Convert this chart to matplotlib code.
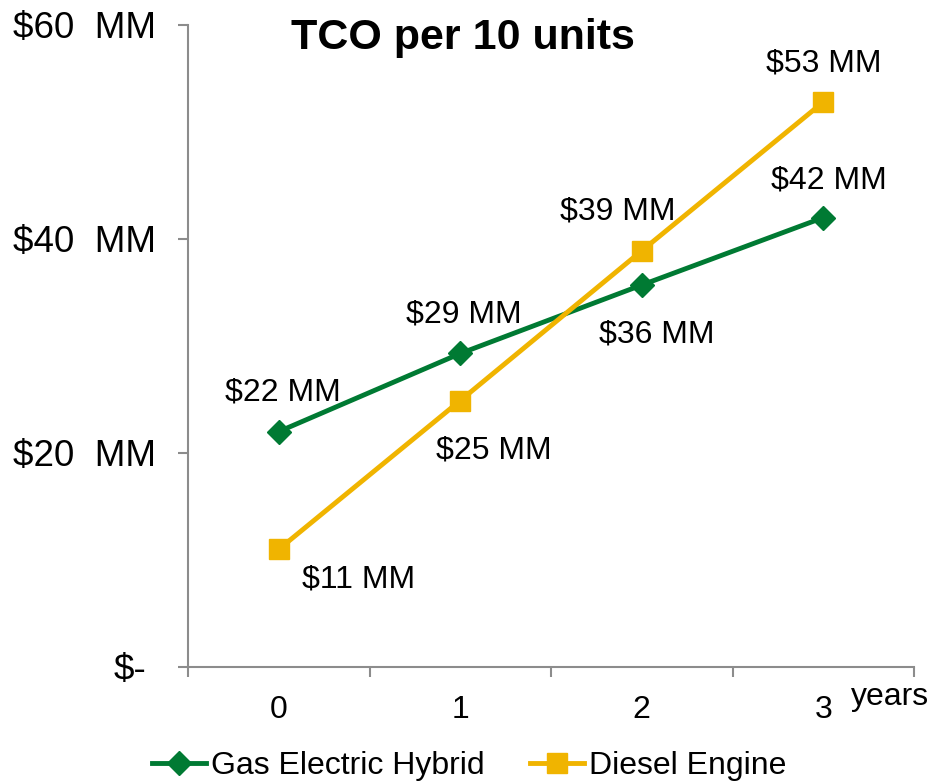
"""TCO per 10 units: gas electric hybrid vs diesel engine, years 0-3."""

import matplotlib
matplotlib.use("Agg")
import matplotlib.pyplot as plt
import matplotlib.transforms as mtransforms
from matplotlib.lines import Line2D

plt.rcParams["font.family"] = ["Liberation Sans", "DejaVu Sans"]

years = [0, 1, 2, 3]
hybrid_tco = [22.0, 29.3, 35.7, 42.0]
diesel_tco = [11.0, 24.9, 38.9, 52.8]
hybrid_labels = ["$22 MM", "$29 MM", "$36 MM", "$42 MM"]
diesel_labels = ["$11 MM", "$25 MM", "$39 MM", "$53 MM"]
y_ticks = [0, 20, 40, 60]
y_tick_labels = ["$-", "$20  MM", "$40  MM", "$60  MM"]

GREEN = "#007A33"
GOLD = "#F0B400"
AXIS = "#8C8C8C"

# label offsets in pixels (x right, y up) relative to each point
hybrid_offsets = [(4, 39), (4, 39), (15, -49), (6, 37)]
diesel_offsets = [(80, -30), (34, -50), (-24, 39), (1, 39)]

W, H = 931, 783
fig = plt.figure(figsize=(W / 100, H / 100), dpi=100)
ax = fig.add_axes([188 / W, 1 - 667 / H, (914 - 188) / W, (667 - 25) / H])

ax.plot(years, hybrid_tco, color=GREEN, lw=3.5, marker="D", ms=12,
        mec=GREEN, mfc=GREEN, zorder=3)
ax.plot(years, diesel_tco, color=GOLD, lw=3.5, marker="s", ms=15,
        mec=GOLD, mfc=GOLD, zorder=3)

for x, y, lab, off in zip(years, hybrid_tco, hybrid_labels, hybrid_offsets):
    ax.annotate(lab, (x, y), xytext=off, textcoords="offset pixels",
                ha="center", va="center", fontsize=23, color="black")
for x, y, lab, off in zip(years, diesel_tco, diesel_labels, diesel_offsets):
    ax.annotate(lab, (x, y), xytext=off, textcoords="offset pixels",
                ha="center", va="center", fontsize=23, color="black")

ax.set_xlim(-0.5, 3.5)
ax.set_ylim(0, 60)

ax.set_xticks(years)
ax.set_xticklabels([str(y) for y in years])
ax.set_xticks([-0.5, 0.5, 1.5, 2.5, 3.5], minor=True)
ax.tick_params(axis="x", which="major", length=0, pad=20, labelsize=23)
ax.tick_params(axis="x", which="minor", length=7, width=1.5, color=AXIS,
               direction="out")

ax.set_yticks(y_ticks)
ax.set_yticklabels(y_tick_labels)
ax.tick_params(axis="y", length=7, width=1.5, color=AXIS, pad=16,
               labelsize=26.5, direction="out")
# accounting-style: the "$-" label sits a bit further left
for lbl in ax.get_yticklabels():
    if lbl.get_text() == "$-":
        lbl.set_transform(lbl.get_transform()
                          + mtransforms.ScaledTranslation(-10 / 100, 0, fig.dpi_scale_trans))

for side in ("top", "right"):
    ax.spines[side].set_visible(False)
for side in ("left", "bottom"):
    ax.spines[side].set_color(AXIS)
    ax.spines[side].set_linewidth(1.5)

fig.text(463 / W, 1 - 38 / H, "TCO per 10 units", ha="center", va="center",
         fontsize=31, fontweight="bold")
fig.text(890 / W, 1 - 697 / H, "years", ha="center", va="center", fontsize=23)

handles = [
    Line2D([], [], color=GREEN, lw=3.5, marker="D", ms=12, mfc=GREEN, mec=GREEN),
    Line2D([], [], color=GOLD, lw=3.5, marker="s", ms=15, mfc=GOLD, mec=GOLD),
]
fig.legend(handles, ["Gas Electric Hybrid", "Diesel Engine"], ncol=2,
           loc="center", bbox_to_anchor=(469 / W, 1 - 766 / H), frameon=False,
           fontsize=23, handlelength=1.7, handletextpad=0.15, columnspacing=1.43,
           borderpad=0)

fig.savefig("out.png", dpi=100)
